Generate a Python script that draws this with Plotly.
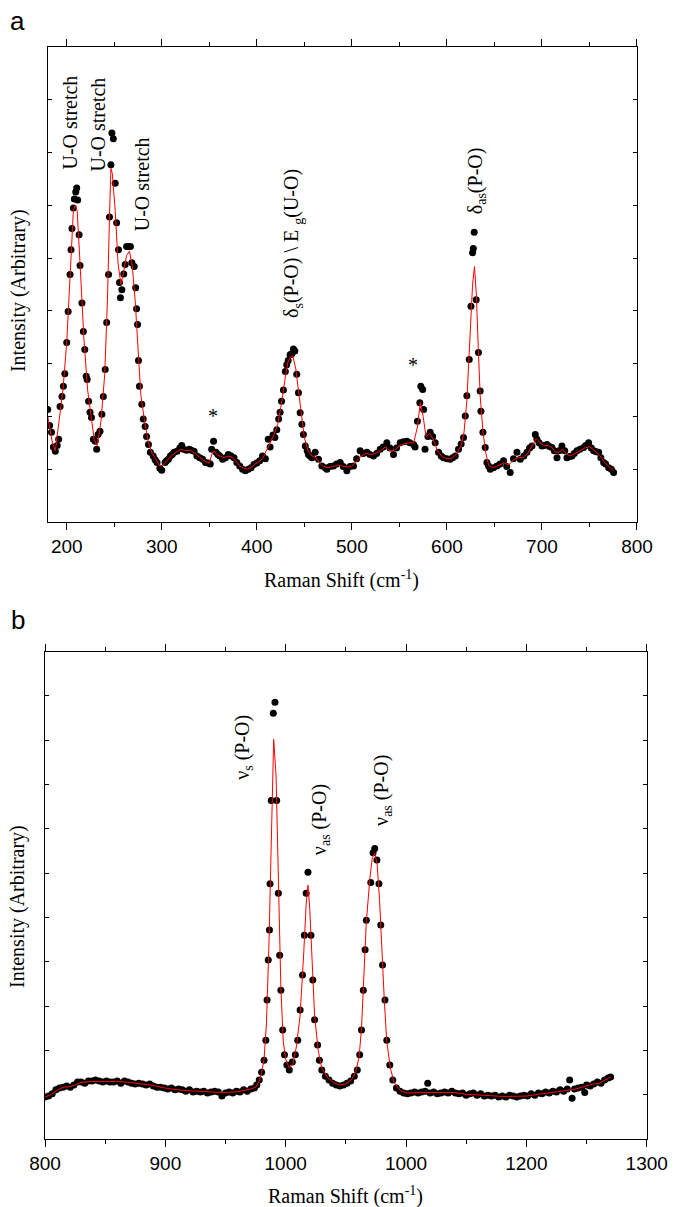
import plotly.graph_objects as go

# ---------------- panel a data ----------------
a_dot_x = [
    180, 182, 184, 186, 188, 190, 191.5, 193, 195, 196.5,
    198, 200, 201.5, 203.5, 204.5, 205.5, 207, 208, 209.5, 210.5,
    211.5, 213, 214, 216, 217.5, 219, 220.5, 221.5, 223, 224.5,
    226, 228, 230, 231.5, 233, 235, 237, 238.5, 240.5, 242,
    244, 245, 246.5, 247.5, 249, 251, 252.5, 254.5, 255.5, 256.5,
    258, 260, 261.5, 263, 265, 267, 268.5, 271, 272.5, 273.5,
    274.5, 275.5, 276.5, 279, 280.5, 282.5, 284, 286, 288, 291,
    293, 295, 298, 300, 303.5, 305, 307, 309, 311, 313,
    316, 319, 321, 323, 326, 329, 331, 334, 337, 340,
    343, 346, 349, 351, 352.5, 354.5, 357, 359, 361, 364,
    367, 370, 373, 376, 379, 382, 385, 388, 391, 394,
    397, 400, 403, 406, 409, 412, 414, 417, 419, 421,
    423, 424.5, 426, 428, 430, 431.5, 433, 435, 437, 438.5,
    440, 442, 443.8, 445.6, 447.4, 449, 451, 453, 454.3, 456,
    458, 461.4, 464.9, 468.4, 472, 473.7, 477, 480.6, 484, 487.7,
    491, 494.7, 498, 501.7, 505, 508.7, 512, 515.8, 519, 522.7,
    526, 529.8, 533, 536.8, 540, 543.8, 547, 550.8, 554, 557.9,
    561, 564.9, 566.5, 569, 571.5, 572.5, 574.5, 575.5, 577, 580,
    582.4, 585, 587.7, 591.2, 594, 596.4, 600, 603.5, 606, 608.8,
    612.2, 615, 617.5, 619.3, 621, 623.5, 625.3, 627, 627.8, 628.7,
    630.8, 633.2, 635, 635.8, 637.9, 640.3, 642.1, 643.8, 645.6, 649,
    652.6, 656, 659.6, 663, 666.6, 670, 673.7, 677.2, 681, 684.2,
    687, 689.5, 693, 694.7, 697, 700, 702.5, 705.3, 708, 710.5,
    713, 715.8, 718, 721, 724, 726.3, 729, 731.6, 734, 736.8,
    740, 743.8, 746, 749.1, 752, 754.4, 757, 759.6, 762, 764.9,
    767, 770.2, 773, 775.4,
]
a_dot_y = [
    1.13, 0.83, 0.70, 0.42, 0.34, 0.45, 0.57, 1.19, 1.38, 1.57,
    1.81, 2.40, 2.99, 3.69, 4.16, 4.56, 4.95, 5.12, 5.25, 5.33,
    5.10, 4.44, 3.86, 3.15, 2.61, 2.27, 1.76, 1.70, 1.29, 1.08,
    0.98, 0.57, 0.53, 0.38, 0.66, 0.72, 1.04, 1.38, 1.89, 2.78,
    3.69, 4.78, 5.77, 6.37, 6.26, 5.42, 4.67, 4.16, 3.54, 3.25,
    3.40, 3.70, 3.88, 4.22, 4.22, 4.22, 3.91, 3.84, 3.44, 3.04,
    2.74, 2.06, 1.57, 1.23, 0.95, 0.81, 0.62, 0.47, 0.32, 0.25,
    0.18, 0.13, 0.02, -0.02, 0.13, 0.16, 0.19, 0.25, 0.28, 0.32,
    0.34, 0.40, 0.45, 0.38, 0.36, 0.38, 0.36, 0.34, 0.25, 0.22,
    0.19, 0.13, 0.12, 0.10, 0.38, 0.53, 0.32, 0.28, 0.25, 0.19,
    0.22, 0.28, 0.25, 0.22, 0.13, 0.06, 0.00, -0.03, 0.00, 0.03,
    0.09, 0.12, 0.16, 0.25, 0.20, 0.57, 0.42, 0.65, 0.60, 0.75,
    0.95, 1.08, 1.29, 1.50, 1.85, 1.98, 2.06, 2.17, 2.19, 2.28,
    2.24, 1.80, 1.45, 1.07, 0.85, 0.66, 0.44, 0.35, 0.28, 0.25,
    0.22, 0.32, 0.19, 0.06, 0.03, 0.00, 0.05, 0.06, 0.10, 0.13,
    0.05, -0.03, 0.05, 0.06, 0.20, 0.35, 0.30, 0.32, 0.28, 0.25,
    0.30, 0.38, 0.42, 0.50, 0.40, 0.28, 0.40, 0.50, 0.52, 0.53,
    0.50, 0.47, 0.42, 0.91, 1.26, 1.57, 1.51, 1.13, 0.38, 0.62,
    0.70, 0.62, 0.50, 0.32, 0.25, 0.22, 0.20, 0.19, 0.22, 0.25,
    0.38, 0.48, 0.60, 1.01, 1.39, 2.08, 3.09, 4.10, 4.18, 4.49,
    3.21, 2.21, 1.48, 1.10, 0.70, 0.41, 0.13, 0.06, 0.00, 0.03,
    0.06, 0.10, 0.16, 0.05, -0.06, 0.20, 0.32, 0.19, 0.25, 0.32,
    0.40, 0.44, 0.66, 0.57, 0.50, 0.44, 0.45, 0.47, 0.43, 0.41,
    0.35, 0.22, 0.35, 0.44, 0.35, 0.22, 0.24, 0.25, 0.30, 0.35,
    0.38, 0.41, 0.45, 0.50, 0.40, 0.35, 0.33, 0.32, 0.22, 0.13,
    0.10, 0.03, 0.00, -0.06,
]
a_fit_x = [
    180, 185, 188, 192, 196, 200, 204, 207, 209, 211,
    214, 218, 222, 226, 229, 232, 236, 240, 243, 245,
    246.5, 248, 251, 254, 257, 260, 263, 266, 269, 272,
    275, 278, 282, 286, 290, 294, 298, 301, 305, 310,
    315, 320, 325, 330, 335, 340, 345, 350, 353, 355,
    358, 362, 366, 370, 374, 378, 382, 386, 390, 394,
    398, 402, 406, 410, 414, 418, 422, 426, 430, 433,
    436, 438, 441, 444, 447, 450, 454, 458, 462, 466,
    470, 475, 480, 485, 490, 495, 500, 505, 510, 515,
    520, 525, 530, 535, 540, 545, 550, 555, 560, 565,
    569, 572, 575, 578, 582, 586, 590, 595, 600, 605,
    610, 615, 618, 621, 624, 627, 629, 631, 633, 635,
    638, 641, 644, 648, 652, 656, 660, 665, 670, 675,
    680, 685, 690, 694, 698, 702, 706, 710, 714, 718,
    722, 726, 730, 735, 740, 745, 750, 755, 760, 765,
    770, 775,
]
a_fit_y = [
    1.0, 0.5, 0.35, 0.9, 1.5, 2.4, 4.0, 4.9, 5.0, 4.9,
    3.9, 2.5, 1.5, 0.95, 0.55, 0.45, 0.9, 1.8, 3.3, 4.8,
    5.7, 5.6, 4.9, 3.9, 3.5, 3.75, 4.05, 4.13, 3.85, 3.2,
    2.2, 1.4, 0.9, 0.5, 0.3, 0.18, 0.06, 0.08, 0.16, 0.25,
    0.32, 0.38, 0.35, 0.36, 0.3, 0.22, 0.15, 0.12, 0.3, 0.35,
    0.28, 0.24, 0.22, 0.25, 0.23, 0.15, 0.06, 0.02, 0.0, 0.03,
    0.1, 0.14, 0.2, 0.35, 0.5, 0.65, 0.85, 1.25, 1.75, 2.05,
    2.14, 2.14, 1.9, 1.45, 0.95, 0.6, 0.35, 0.25, 0.22, 0.12,
    0.05, 0.03, 0.05, 0.08, 0.06, 0.04, 0.06, 0.15, 0.25, 0.3,
    0.28, 0.3, 0.35, 0.42, 0.35, 0.35, 0.45, 0.48, 0.5, 0.5,
    0.8, 1.27, 1.0, 0.62, 0.68, 0.55, 0.35, 0.24, 0.2, 0.2,
    0.28, 0.45, 0.7, 1.3, 2.3, 3.5, 3.84, 3.3, 2.3, 1.4,
    0.7, 0.3, 0.07, 0.03, 0.05, 0.08, 0.12, 0.08, 0.18, 0.22,
    0.22, 0.3, 0.45, 0.58, 0.5, 0.45, 0.45, 0.42, 0.33, 0.32,
    0.38, 0.28, 0.25, 0.3, 0.35, 0.4, 0.43, 0.35, 0.28, 0.15,
    0.05, -0.03,
]

# ---------------- panel b data ----------------
b_dot_x = [
    800, 803, 806, 809, 812, 815, 818, 821, 824, 827,
    830, 833, 836, 839, 842, 845, 848, 851, 854, 857,
    860, 863, 866, 869, 872, 875, 878, 881, 884, 887,
    890, 893, 896, 899, 902, 905, 908, 911, 914, 917,
    920, 923, 926, 929, 932, 935, 938, 941, 944, 947,
    950, 953, 956, 959, 962, 965, 968, 971, 974, 976,
    978, 980, 982, 983.5, 984.5, 985.5, 986.5, 987, 988, 989.7,
    991.1, 992.5, 993.9, 995, 996, 997.5, 999, 1001, 1003, 1005.5,
    1008, 1010, 1012, 1014, 1015.5, 1017, 1018.5, 1021, 1022.5, 1024,
    1026.5, 1028, 1030, 1033, 1036, 1039, 1042, 1045, 1048, 1051,
    1054, 1057, 1059.5, 1061.5, 1063, 1064.5, 1066, 1067, 1070.7, 1072.6,
    1074, 1075.8, 1077.5, 1079, 1080.5, 1082.5, 1084, 1086.5, 1089, 1092,
    1095, 1098, 1101, 1104, 1107, 1110, 1113, 1116, 1118, 1120,
    1123, 1126, 1129, 1132, 1135, 1138, 1141, 1144, 1147, 1150,
    1153, 1156, 1159, 1162, 1165, 1168, 1171, 1174, 1177, 1180,
    1183, 1186, 1189, 1192, 1195, 1198, 1201, 1204, 1207, 1210,
    1213, 1216, 1219, 1222, 1225, 1228, 1231, 1234, 1236, 1238,
    1240, 1243, 1246, 1248.5, 1250, 1253, 1256, 1259, 1262, 1265,
    1268, 1270,
]
b_dot_y = [
    0.95, 0.97, 1.02, 1.11, 1.15, 1.17, 1.20, 1.17, 1.22, 1.29,
    1.29, 1.26, 1.31, 1.31, 1.33, 1.31, 1.29, 1.31, 1.29, 1.29,
    1.31, 1.26, 1.31, 1.29, 1.26, 1.24, 1.26, 1.24, 1.22, 1.24,
    1.20, 1.17, 1.17, 1.15, 1.13, 1.15, 1.11, 1.13, 1.11, 1.08,
    1.11, 1.06, 1.08, 1.06, 1.08, 1.04, 1.06, 1.08, 1.06, 0.97,
    1.04, 1.06, 1.04, 1.08, 1.06, 1.11, 1.08, 1.13, 1.15, 1.22,
    1.33, 1.51, 1.78, 2.23, 3.14, 4.04, 4.72, 5.76, 7.64, 9.61,
    9.86, 7.64, 5.55, 4.15, 3.36, 2.46, 1.90, 1.67, 1.56, 1.74,
    1.90, 2.23, 2.91, 3.70, 4.60, 5.55, 6.02, 4.60, 3.59, 2.69,
    2.12, 1.78, 1.56, 1.42, 1.33, 1.26, 1.22, 1.20, 1.22, 1.26,
    1.31, 1.42, 1.56, 1.90, 2.46, 3.36, 4.27, 4.94, 5.79, 6.46,
    6.56, 6.30, 5.76, 4.83, 3.93, 3.14, 2.23, 1.67, 1.33, 1.15,
    1.08, 1.04, 1.02, 1.04, 1.06, 1.04, 1.06, 1.08, 1.26, 1.04,
    1.06, 1.02, 1.04, 1.06, 1.04, 1.08, 1.04, 1.02, 1.04, 0.99,
    1.02, 1.04, 0.99, 1.02, 0.97, 0.99, 0.97, 0.99, 0.95, 0.97,
    0.95, 0.99, 0.97, 0.95, 0.97, 0.99, 0.97, 1.02, 0.99, 1.04,
    1.02, 1.06, 1.04, 1.08, 1.06, 1.11, 1.08, 1.13, 1.33, 0.92,
    1.13, 1.15, 1.17, 1.05, 1.22, 1.20, 1.24, 1.29, 1.26, 1.33,
    1.38, 1.40,
]
b_fit_x = [
    800, 805, 810, 815, 820, 825, 830, 840, 850, 860,
    870, 880, 890, 900, 910, 920, 930, 940, 950, 960,
    970, 975, 978, 980, 982, 984, 986, 988, 990, 992,
    994, 996, 998, 1000, 1003, 1006, 1009, 1012, 1015, 1017,
    1018.5, 1020, 1022, 1024, 1027, 1030, 1035, 1040, 1045, 1050,
    1055, 1058, 1061, 1063, 1065, 1067, 1070, 1072, 1074, 1076,
    1078, 1080, 1082, 1084, 1087, 1090, 1095, 1100, 1110, 1120,
    1130, 1140, 1150, 1160, 1170, 1180, 1190, 1200, 1210, 1220,
    1230, 1240, 1250, 1255, 1260, 1265, 1270,
]
b_fit_y = [
    0.95, 1.0, 1.1, 1.17, 1.18, 1.22, 1.28, 1.3, 1.3, 1.3,
    1.28, 1.25, 1.21, 1.15, 1.11, 1.09, 1.07, 1.06, 1.05, 1.07,
    1.12, 1.17, 1.3, 1.5, 1.8, 2.6, 4.3, 7.0, 9.02, 8.2,
    5.5, 3.4, 2.2, 1.8, 1.6, 1.7, 2.1, 2.8, 4.2, 5.3,
    5.73, 5.2, 4.0, 2.8, 2.0, 1.6, 1.38, 1.27, 1.22, 1.24,
    1.35, 1.5, 1.85, 2.5, 3.7, 4.9, 5.9, 6.35, 6.45, 6.2,
    5.4, 4.2, 3.1, 2.2, 1.6, 1.28, 1.1, 1.04, 1.05, 1.05,
    1.05, 1.05, 1.01, 1.0, 0.98, 0.96, 0.96, 0.97, 1.01, 1.05,
    1.08, 1.12, 1.2, 1.24, 1.25, 1.33, 1.40,
]

b_tickvals = [800, 900, 1000, 1100, 1200, 1300]
b_ticktext = ["800", "900", "1000", "1000", "1200", "1300"]

SERIF = "Liberation Serif"
SANS = "Liberation Sans"

fig = go.Figure()
fig.add_trace(go.Scatter(x=a_dot_x, y=a_dot_y, mode="markers",
                         marker=dict(color="black", size=7), xaxis="x", yaxis="y",
                         showlegend=False, hoverinfo="skip"))
fig.add_trace(go.Scatter(x=a_fit_x, y=a_fit_y, mode="lines",
                         line=dict(color="red", width=1), xaxis="x", yaxis="y",
                         showlegend=False))
fig.add_trace(go.Scatter(x=b_dot_x, y=b_dot_y, mode="markers",
                         marker=dict(color="black", size=7), xaxis="x2", yaxis="y2",
                         showlegend=False, hoverinfo="skip"))
fig.add_trace(go.Scatter(x=b_fit_x, y=b_fit_y, mode="lines",
                         line=dict(color="red", width=1), xaxis="x2", yaxis="y2",
                         showlegend=False))

xcommon = dict(showline=True, linecolor="black", linewidth=1.3, mirror="ticks",
               ticks="outside", ticklen=7, tickwidth=1, tickcolor="black",
               showgrid=False, zeroline=False, automargin=False,
               tickfont=dict(family=SANS, size=19, color="black"))
ycommon = dict(showline=True, linecolor="black", linewidth=1.3, mirror="ticks",
               ticks="inside", ticklen=4, tickwidth=1, tickcolor="black",
               showgrid=False, zeroline=False, showticklabels=False, automargin=False,
               tickmode="linear", tick0=0, dtick=1)

fig.update_layout(
    template="none",
    width=674, height=1207, autosize=False,
    margin=dict(l=0, r=0, t=0, b=0, pad=0),
    paper_bgcolor="white", plot_bgcolor="white",
    xaxis=dict(domain=[0.0708, 0.9451], range=[180, 800], anchor="y",
               tickmode="linear", tick0=0, dtick=100,
               minor=dict(ticks="outside", ticklen=4, tickmode="linear", tick0=0, dtick=50,
                          tickcolor="black"),
               **xcommon),
    yaxis=dict(domain=[0.5675, 0.9611], range=[-1, 8], anchor="x", **ycommon),
    xaxis2=dict(domain=[0.0668, 0.9595], range=[800, 1300], anchor="y2",
                tickmode="array", tickvals=b_tickvals, ticktext=b_ticktext,
                minor=dict(ticks="outside", ticklen=4, tickmode="linear", tick0=0, dtick=50,
                           tickcolor="black"),
                **xcommon),
    yaxis2=dict(domain=[0.0563, 0.4601], range=[0, 11], anchor="x2", **ycommon),
)

def ann(text, x, y, xref, yref, size=20, family=SERIF, angle=0):
    fig.add_annotation(text=text, x=x, y=y, xref=xref, yref=yref, showarrow=False,
                       textangle=angle, xanchor="center", yanchor="middle",
                       font=dict(family=family, size=size, color="black"))

# panel a labels
ann("U-O stretch", 203.5, 6.57, "x", "y", angle=-90)
ann("U-O stretch", 232.9, 6.53, "x", "y", angle=-90)
ann("U-O stretch", 279.3, 5.40, "x", "y", angle=-90)
ann("δ<sub>s</sub>(P-O) \\ E <sub>g</sub>(U-O)", 437.7, 4.28, "x", "y", angle=-90)
ann("δ<sub>as</sub>(P-O)", 631.4, 5.47, "x", "y", angle=-90)
ann("*", 354, 1.0, "x", "y", size=20)
ann("*", 564.5, 1.98, "x", "y", size=20)

# panel b labels
ann("ν<sub>s</sub> (P-O)", 965.4, 8.83, "x2", "y2", angle=-90)
ann("ν<sub>as</sub> (P-O)", 1028.5, 7.22, "x2", "y2", angle=-90)
ann("ν<sub>as</sub> (P-O)", 1080.5, 7.87, "x2", "y2", angle=-90)

# axis titles and panel letters
ann("Raman Shift (cm<sup>-1</sup>)", 0.5074, 0.5195, "paper", "paper")
ann("Raman Shift (cm<sup>-1</sup>)", 0.512, 0.0099, "paper", "paper")
ann("Intensity (Arbitrary)", 0.0267, 0.7597, "paper", "paper", angle=-90)
ann("Intensity (Arbitrary)", 0.0267, 0.2494, "paper", "paper", angle=-90)
ann("a", 0.0267, 0.9826, "paper", "paper", size=26, family=SANS)
ann("b", 0.0267, 0.4863, "paper", "paper", size=26, family=SANS)

fig.write_html("out.html")
